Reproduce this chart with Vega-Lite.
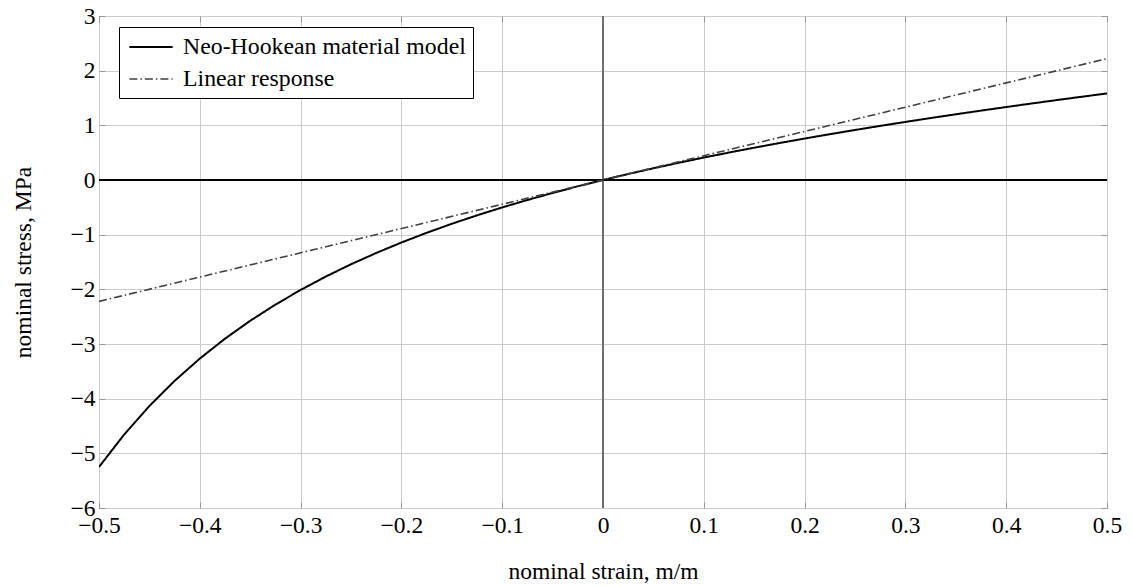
{
  "$schema": "https://vega.github.io/schema/vega-lite/v6.json",
  "width": 1008,
  "height": 492,
  "autosize": {"type": "none"},
  "padding": {"left": 99, "top": 16, "right": 25, "bottom": 78},
  "background": "white",
  "config": {
    "font": "Liberation Serif",
    "view": {"stroke": "black", "strokeWidth": 1},
    "axis": {
      "labelFont": "Liberation Serif",
      "titleFont": "Liberation Serif",
      "labelFontSize": 23.5,
      "titleFontSize": 23.5,
      "titleFontWeight": "normal",
      "labelColor": "black",
      "titleColor": "black",
      "domain": false,
      "gridColor": "#cccccc",
      "gridWidth": 1,
      "tickColor": "#999999",
      "tickWidth": 1,
      "labelFlush": false,
      "labelOverlap": false,
      "labelBound": false
    },
    "legend": {
      "labelFont": "Liberation Serif",
      "labelFontSize": 23.8,
      "labelColor": "black"
    }
  },
  "data": {
    "values": [
      {"strain": -0.5, "stress": -5.25, "series": "Neo-Hookean material model"},
      {"strain": -0.475, "stress": -4.6547, "series": "Neo-Hookean material model"},
      {"strain": -0.45, "stress": -4.1337, "series": "Neo-Hookean material model"},
      {"strain": -0.425, "stress": -3.6744, "series": "Neo-Hookean material model"},
      {"strain": -0.4, "stress": -3.2667, "series": "Neo-Hookean material model"},
      {"strain": -0.375, "stress": -2.9025, "series": "Neo-Hookean material model"},
      {"strain": -0.35, "stress": -2.5753, "series": "Neo-Hookean material model"},
      {"strain": -0.325, "stress": -2.2797, "series": "Neo-Hookean material model"},
      {"strain": -0.3, "stress": -2.0112, "series": "Neo-Hookean material model"},
      {"strain": -0.275, "stress": -1.7663, "series": "Neo-Hookean material model"},
      {"strain": -0.25, "stress": -1.5417, "series": "Neo-Hookean material model"},
      {"strain": -0.225, "stress": -1.3349, "series": "Neo-Hookean material model"},
      {"strain": -0.2, "stress": -1.1438, "series": "Neo-Hookean material model"},
      {"strain": -0.175, "stress": -0.9664, "series": "Neo-Hookean material model"},
      {"strain": -0.15, "stress": -0.8011, "series": "Neo-Hookean material model"},
      {"strain": -0.125, "stress": -0.6467, "series": "Neo-Hookean material model"},
      {"strain": -0.1, "stress": -0.5019, "series": "Neo-Hookean material model"},
      {"strain": -0.075, "stress": -0.3656, "series": "Neo-Hookean material model"},
      {"strain": -0.05, "stress": -0.237, "series": "Neo-Hookean material model"},
      {"strain": -0.025, "stress": -0.1154, "series": "Neo-Hookean material model"},
      {"strain": 0, "stress": 0, "series": "Neo-Hookean material model"},
      {"strain": 0.025, "stress": 0.1098, "series": "Neo-Hookean material model"},
      {"strain": 0.05, "stress": 0.2145, "series": "Neo-Hookean material model"},
      {"strain": 0.075, "stress": 0.3145, "series": "Neo-Hookean material model"},
      {"strain": 0.1, "stress": 0.4103, "series": "Neo-Hookean material model"},
      {"strain": 0.125, "stress": 0.5023, "series": "Neo-Hookean material model"},
      {"strain": 0.15, "stress": 0.5908, "series": "Neo-Hookean material model"},
      {"strain": 0.175, "stress": 0.676, "series": "Neo-Hookean material model"},
      {"strain": 0.2, "stress": 0.7583, "series": "Neo-Hookean material model"},
      {"strain": 0.225, "stress": 0.8379, "series": "Neo-Hookean material model"},
      {"strain": 0.25, "stress": 0.915, "series": "Neo-Hookean material model"},
      {"strain": 0.275, "stress": 0.9898, "series": "Neo-Hookean material model"},
      {"strain": 0.3, "stress": 1.0624, "series": "Neo-Hookean material model"},
      {"strain": 0.325, "stress": 1.1331, "series": "Neo-Hookean material model"},
      {"strain": 0.35, "stress": 1.202, "series": "Neo-Hookean material model"},
      {"strain": 0.375, "stress": 1.2691, "series": "Neo-Hookean material model"},
      {"strain": 0.4, "stress": 1.3347, "series": "Neo-Hookean material model"},
      {"strain": 0.425, "stress": 1.3988, "series": "Neo-Hookean material model"},
      {"strain": 0.45, "stress": 1.4616, "series": "Neo-Hookean material model"},
      {"strain": 0.475, "stress": 1.523, "series": "Neo-Hookean material model"},
      {"strain": 0.5, "stress": 1.5833, "series": "Neo-Hookean material model"},
      {"strain": -0.5, "stress": -2.22, "series": "Linear response"},
      {"strain": 0.5, "stress": 2.22, "series": "Linear response"}
    ]
  },
  "resolve": {"axis": {"x": "independent", "y": "independent"}},
  "layer": [
    {
      "mark": {"type": "rule", "color": "#6e6e6e", "strokeWidth": 1.5},
      "encoding": {
        "x": {
          "datum": 0,
          "type": "quantitative",
          "scale": {"domain": [-0.5, 0.5], "nice": false, "zero": false},
          "axis": {"orient": "top", "labels": false, "grid": false, "title": null, "values": [-0.5, -0.4, -0.3, -0.2, -0.1, 0, 0.1, 0.2, 0.3, 0.4, 0.5], "ticks": true, "tickSize": -6}
        }
      }
    },
    {
      "mark": {"type": "rule", "color": "black", "strokeWidth": 1},
      "encoding": {
        "y": {
          "datum": 0,
          "type": "quantitative",
          "scale": {"domain": [-6, 3], "nice": false, "zero": false},
          "axis": {"orient": "right", "labels": false, "grid": false, "title": null, "values": [-6, -5, -4, -3, -2, -1, 0, 1, 2, 3], "ticks": true, "tickSize": -6}
        }
      }
    },
    {
      "mark": {"type": "line", "clip": true},
      "encoding": {
        "x": {
          "field": "strain",
          "type": "quantitative",
          "scale": {"domain": [-0.5, 0.5], "nice": false, "zero": false},
          "axis": {
            "orient": "bottom",
            "title": "nominal strain, m/m",
            "values": [-0.5, -0.4, -0.3, -0.2, -0.1, 0, 0.1, 0.2, 0.3, 0.4, 0.5],
            "format": ".1~f",
            "grid": true,
            "ticks": true,
            "tickSize": -6,
            "labelPadding": 11,
            "titlePadding": 23
          }
        },
        "y": {
          "field": "stress",
          "type": "quantitative",
          "scale": {"domain": [-6, 3], "nice": false, "zero": false},
          "axis": {
            "orient": "left",
            "title": "nominal stress, MPa",
            "values": [-6, -5, -4, -3, -2, -1, 0, 1, 2, 3],
            "format": "d",
            "grid": true,
            "ticks": true,
            "tickSize": -6,
            "labelPadding": 10,
            "titlePadding": 34
          }
        },
        "color": {
          "field": "series",
          "type": "nominal",
          "scale": {"domain": ["Neo-Hookean material model", "Linear response"], "range": ["black", "#404040"]},
          "legend": {
            "title": null,
            "orient": "none",
            "legendX": 20,
            "legendY": 11,
            "symbolType": "M-0.8,0H2.8",
            "symbolSize": 576,
            "symbolStrokeWidth": 2,
            "strokeColor": "black",
            "fillColor": "white",
            "padding": 7,
            "rowPadding": 7,
            "labelOffset": 31,
            "labelLimit": 500
          }
        },
        "strokeDash": {
          "field": "series",
          "type": "nominal",
          "scale": {"domain": ["Neo-Hookean material model", "Linear response"], "range": [[1, 0], [8, 3, 1.5, 3]]},
          "legend": {
            "title": null,
            "orient": "none",
            "legendX": 20,
            "legendY": 11,
            "symbolType": "M-0.8,0H2.8",
            "symbolSize": 576,
            "symbolStrokeWidth": 2,
            "strokeColor": "black",
            "fillColor": "white",
            "padding": 7,
            "rowPadding": 7,
            "labelOffset": 31,
            "labelLimit": 500
          }
        },
        "strokeWidth": {
          "field": "series",
          "type": "nominal",
          "scale": {"domain": ["Neo-Hookean material model", "Linear response"], "range": [2, 1.6]},
          "legend": null
        }
      }
    }
  ]
}
